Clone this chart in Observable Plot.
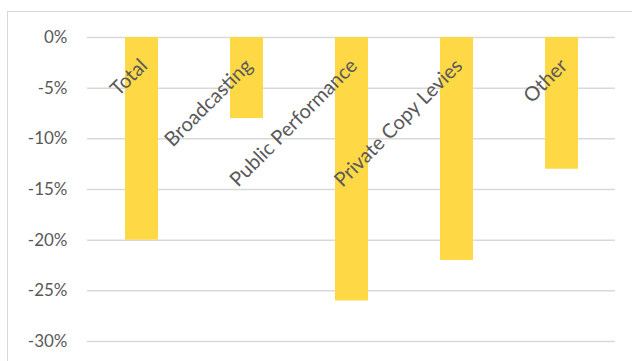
<!DOCTYPE html>
<html>
<head>
<meta charset="utf-8">
<script src="https://cdn.jsdelivr.net/npm/d3@7"></script>
<script src="https://cdn.jsdelivr.net/npm/@observablehq/plot@0.6"></script>
<style>
  html, body { margin: 0; padding: 0; background: #fff; overflow: hidden; }
  #wrap { position: relative; width: 632px; height: 361px; }
  #border { position: absolute; left: 7px; top: 11px; width: 700px; height: 400px;
            border: 1.5px solid #d9d9d9; pointer-events: none; }
</style>
</head>
<body>
<div id="wrap"><div id="border"></div></div>
<script>
const categories = ["Total", "Broadcasting", "Public Performance", "Private Copy Levies", "Other"];
const changes = [-20, -8, -26, -22, -13];
const yTicks = [0, -5, -10, -15, -20, -25, -30];

const data = categories.map((c, i) => ({category: c, value: changes[i]}));

const chart = Plot.plot({
  width: 632,
  height: 361,
  marginLeft: 87,
  marginRight: 17,
  marginTop: 37,
  marginBottom: 20,
  style: {fontFamily: "Lato, 'Open Sans', sans-serif", fontSize: "17px", color: "#595959", background: "transparent"},
  x: {domain: categories, paddingInner: 0.69, paddingOuter: 0.345, axis: null},
  y: {domain: [-30, 0], axis: null},
  marks: [
    Plot.gridY(yTicks, {stroke: "#d9d9d9", strokeOpacity: 1, strokeWidth: 1.5}),
    Plot.axisY(yTicks, {tickSize: 0, tickPadding: 20, tickFormat: d => d + "%", label: null, fontSize: 17}),
    Plot.barY(data, {x: "category", y: "value", fill: "#FFD945"}),
    Plot.text(data, {x: "category", y: () => 0, text: "category", rotate: -45, textAnchor: "end",
                     dx: 2, dy: 25, fill: "#595959", fontSize: 20})
  ]
});
chart.style.position = "absolute";
chart.style.left = "0px";
chart.style.top = "0px";
document.getElementById("wrap").prepend(chart);
</script>
</body>
</html>
